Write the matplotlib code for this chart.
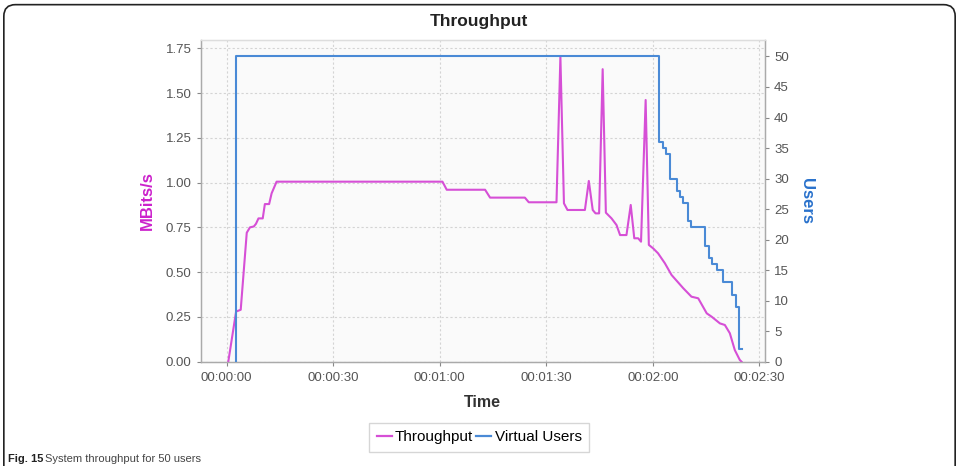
import matplotlib
matplotlib.use("Agg")
import matplotlib.pyplot as plt
from matplotlib.ticker import FuncFormatter
from matplotlib.patches import FancyBboxPatch
import matplotlib.lines as mlines

# ---- data (time in seconds) ----
thr_time = [0.5, 2.7, 4.0, 5.7, 6.6, 7.7, 8.3, 9.0, 10.2, 10.8, 12.0, 12.7, 14.1,
            60.8, 62.0, 72.8, 74.2, 84.0, 85.1, 92.9, 94.0, 95.0, 96.0, 100.9,
            102.0, 103.1, 103.9, 104.9, 105.9, 106.8, 108.4, 109.8, 110.8, 112.6,
            113.8, 114.8, 115.9, 116.7, 118.0, 118.9, 120.1, 121.5, 123.4, 125.3,
            128.6, 130.9, 132.8, 135.2, 136.6, 138.9, 140.3, 141.7, 143.1, 144.5, 145.0]
thr_vals = [0.0, 0.28, 0.29, 0.72, 0.75, 0.755, 0.77, 0.80, 0.80, 0.88, 0.88, 0.94, 1.005,
            1.005, 0.96, 0.96, 0.916, 0.916, 0.89, 0.89, 1.703, 0.884, 0.847, 0.847,
            1.009, 0.847, 0.828, 0.828, 1.633, 0.832, 0.80, 0.763, 0.707, 0.707,
            0.875, 0.689, 0.689, 0.67, 1.461, 0.652, 0.633, 0.605, 0.55, 0.484,
            0.41, 0.363, 0.354, 0.27, 0.251, 0.214, 0.205, 0.159, 0.065, 0.01, 0.0]

users_time = [2.7, 2.7, 121.7, 122.8, 123.7, 124.8, 126.7, 127.6, 128.6, 129.8, 130.7,
              134.7, 135.8, 136.8, 138.0, 139.8, 142.2, 143.3, 144.2, 145.2]
users_vals = [0, 50, 36, 35, 34, 30, 28, 27, 26, 23, 22,
              19, 17, 16, 15, 13, 11, 9, 2, 2]

left_ticks = [0.0, 0.25, 0.5, 0.75, 1.0, 1.25, 1.5, 1.75]
right_ticks = list(range(0, 51, 5))
x_ticks = [0, 30, 60, 90, 120, 150]

MAG = "#d64fd6"
BLUE = "#4a8ad6"
plt.rcParams["font.family"] = ["Liberation Sans", "DejaVu Sans"]

fig = plt.figure(figsize=(9.59, 4.66), dpi=100)
ax = fig.add_axes([0.2093, 0.2238, 0.5884, 0.6904])
ax2 = ax.twinx()
ax.set_zorder(ax2.get_zorder() - 1)
ax2.patch.set_visible(False)
ax.set_facecolor("#fafafa")

ax.plot(thr_time, thr_vals, color=MAG, lw=1.5, zorder=3)
ax2.plot(users_time, users_vals, color=BLUE, lw=1.5, drawstyle="steps-post", zorder=3)

ax.set_xlim(-7.26, 151.6)
ax.set_ylim(0, 1.796)
ax2.set_ylim(0, 52.7)

ax.set_xticks(x_ticks)
ax.xaxis.set_major_formatter(FuncFormatter(
    lambda t, p: f"{int(t // 3600):02d}:{int(t % 3600 // 60):02d}:{int(t % 60):02d}"))
ax.set_yticks(left_ticks)
ax.yaxis.set_major_formatter(FuncFormatter(lambda v, p: f"{v:.2f}"))
ax2.set_yticks(right_ticks)

ax.grid(True, color="#d4d4d4", linestyle=(0, (2, 2)), lw=0.8)
for a in (ax, ax2):
    a.tick_params(colors="#888888", labelcolor="#555555", labelsize=9.5, length=3, width=0.8)
    for s in a.spines.values():
        s.set_color("#aaaaaa")
        s.set_linewidth(0.9)
ax.spines["top"].set_color("#dddddd")
ax2.spines["top"].set_color("#dddddd")
ax.tick_params(axis="x", pad=4.5)

ax.set_xlabel("Time", fontsize=11.5, fontweight="bold", color="#333333", labelpad=8)
ax.set_ylabel("MBits/s", fontsize=12, fontweight="bold", color="#cc22cc", labelpad=8)
ax2.set_ylabel("Users", fontsize=12, fontweight="bold", color="#2a72cc",
               rotation=-90, labelpad=18)
fig.text(0.4995, 0.953, "Throughput", ha="center", va="center", fontsize=12.5,
         fontweight="bold", color="#222222")

h1 = mlines.Line2D([], [], color=MAG, lw=1.6)
h2 = mlines.Line2D([], [], color=BLUE, lw=1.6)
leg = fig.legend([h1, h2], ["Throughput", "Virtual Users"], loc="upper center",
                 bbox_to_anchor=(0.4995, 0.093), ncol=2, fontsize=11,
                 handlelength=1.0, handletextpad=0.2, columnspacing=0.2,
                 frameon=True, fancybox=False, borderpad=0.5, borderaxespad=0)
leg.get_frame().set_edgecolor("#cccccc")
leg.get_frame().set_linewidth(1.0)

# outer rounded frame of the figure panel
frame = FancyBboxPatch((0.004, -0.2), 0.992, 1.19, boxstyle="round,pad=0,rounding_size=0.012",
                       transform=fig.transFigure, fill=False, edgecolor="#222222", lw=1.2,
                       mutation_aspect=959 / 466)
fig.patches.append(frame)

fig.text(0.008, 0.014, "Fig. 15", fontsize=8, fontweight="bold", color="#222222", va="center")
fig.text(0.047, 0.014, "System throughput for 50 users", fontsize=8, color="#444444",
         va="center")

fig.savefig("out.png", dpi=100)
